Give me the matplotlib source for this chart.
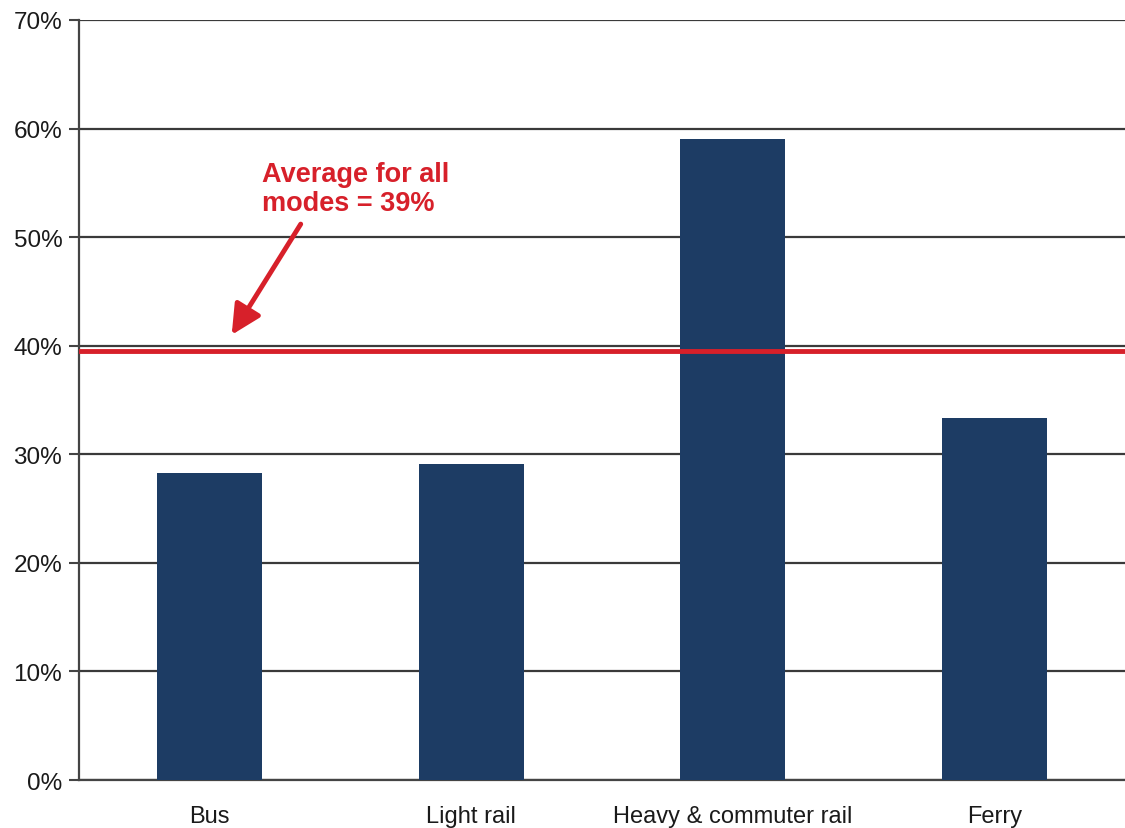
import matplotlib
matplotlib.use("Agg")
import matplotlib.pyplot as plt

modes = ["Bus", "Light rail", "Heavy & commuter rail", "Ferry"]
shares = [28.3, 29.1, 59.0, 33.3]
average = 39.5
yticks = [0, 10, 20, 30, 40, 50, 60, 70]

plt.rcParams['font.family'] = ['Liberation Sans', 'DejaVu Sans']

fig = plt.figure(figsize=(11.25, 8.29), dpi=100)
ax = fig.add_axes([0.0702, 0.0579, 0.9298, 0.9168])

ax.bar(range(len(modes)), shares, width=0.4, color="#1d3c64", zorder=3)
ax.axhline(average, color="#d7202a", lw=3.5, zorder=4)

ax.set_xlim(-0.5, len(modes) - 0.5)
ax.set_ylim(0, 70)
ax.set_yticks(yticks)
ax.set_yticklabels([f"{v}%" for v in yticks], fontsize=17.5, color="#1a1a1a")
ax.set_xticks(range(len(modes)))
ax.set_xticklabels(modes, fontsize=17, color="#1a1a1a")
ax.tick_params(axis="x", length=0, pad=18)
ax.tick_params(axis="y", length=7, width=1.5, color="#444444", pad=5)
ax.yaxis.grid(True, color="#3a3a3a", lw=1.6, zorder=0)

for s in ["top", "right"]:
    ax.spines[s].set_visible(False)
ax.spines["left"].set_color("#444444")
ax.spines["left"].set_linewidth(1.6)
ax.spines["bottom"].set_color("#444444")
ax.spines["bottom"].set_linewidth(1.6)

ax.text(0.2, 57.0, "Average for all\nmodes = 39%", fontsize=19.5, fontweight="bold",
        color="#d7202a", ha="left", va="top", linespacing=1.15)
ax.annotate("", xy=(0.084, 41.0), xytext=(0.348, 51.2),
            arrowprops=dict(arrowstyle="-|>,head_length=0.9,head_width=0.45",
                            color="#d7202a", lw=3.5, mutation_scale=20,
                            shrinkA=0, shrinkB=0))

fig.savefig("out.png", dpi=100)
